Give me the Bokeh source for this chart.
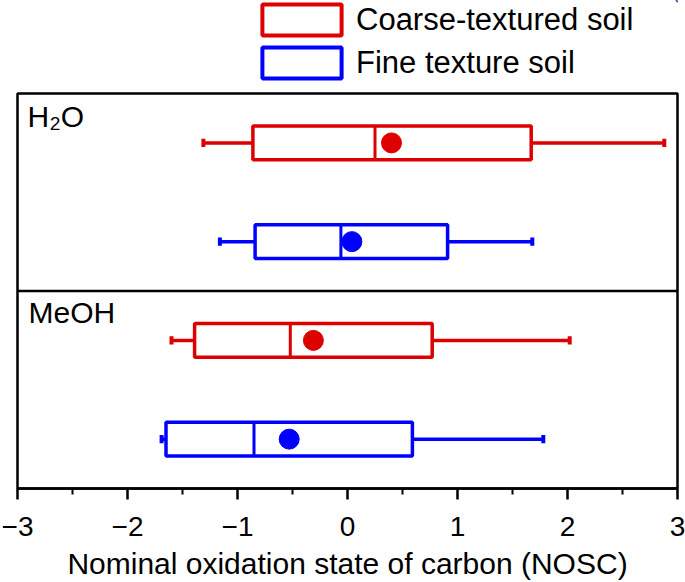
from bokeh.plotting import figure
from bokeh.layouts import column
from bokeh.models import ColumnDataSource, Legend, LegendItem, Label, Span, FixedTicker, Range1d
from bokeh.embed import file_html
from bokeh.resources import INLINE

# ---------------- data ----------------
panels = ["H\u2082O", "MeOH"]
soils = ["Coarse-textured soil", "Fine texture soil"]

coarse_whisker_low = [-1.31, -1.60]
coarse_q1 = [-0.86, -1.39]
coarse_median = [0.25, -0.52]
coarse_q3 = [1.67, 0.77]
coarse_whisker_high = [2.88, 2.02]
coarse_mean = [0.40, -0.31]

fine_whisker_low = [-1.16, -1.69]
fine_q1 = [-0.84, -1.65]
fine_median = [-0.06, -0.85]
fine_q3 = [0.91, 0.59]
fine_whisker_high = [1.68, 1.78]
fine_mean = [0.04, -0.53]

tick_values = [-3, -2, -1, 0, 1, 2, 3]
tick_labels = ["\u22123", "\u22122", "\u22121", "0", "1", "2", "3"]
minor_tick_values = [-2.5, -1.5, -0.5, 0.5, 1.5, 2.5]
x_label = "Nominal oxidation state of carbon (NOSC)"

# ---------------- styling ----------------
RED = "#dd0000"
BLUE = "#0000ff"
FONT = "Liberation Sans"
BOX_H = 0.68
CAP_H = 0.17
panel_base = [4, 0]          # H2O panel on top, MeOH below
coarse_y = [b + 3 for b in panel_base]
fine_y = [b + 1 for b in panel_base]

W = 685
TOP_H = 90

# ---------------- legend strip ----------------
leg_fig = figure(width=W, height=TOP_H, output_backend="svg", toolbar_location=None,
                 x_range=Range1d(0, 1), y_range=Range1d(0, 1),
                 x_axis_location=None, y_axis_location=None, min_border=0)
leg_fig.xgrid.visible = False
leg_fig.ygrid.visible = False
leg_fig.outline_line_color = None
leg_fig.border_fill_color = "white"
leg_fig.background_fill_color = "white"
# swatch renderers: their box lies far outside the visible range; only the legend shows them
leg_r1 = leg_fig.hbar(y=[50], left=[50], right=[51], height=0.5, fill_color="white",
                      line_color=RED, line_width=4)
leg_r2 = leg_fig.hbar(y=[50], left=[50], right=[51], height=0.5, fill_color="white",
                      line_color=BLUE, line_width=4)
legend = Legend(items=[LegendItem(label=soils[0], renderers=[leg_r1]),
                       LegendItem(label=soils[1], renderers=[leg_r2])],
                location=(235, 8), orientation="vertical",
                glyph_width=99, glyph_height=39, spacing=4, padding=0, margin=0,
                label_standoff=5, label_text_font=FONT, label_text_font_size="31px",
                label_text_color="black", border_line_color=None,
                background_fill_alpha=0)
leg_fig.add_layout(legend)

# ---------------- main chart ----------------
p = figure(width=W, height=582 - TOP_H, output_backend="svg", toolbar_location=None,
           x_range=Range1d(-3, 3), y_range=Range1d(0, 8), y_axis_location=None,
           min_border_left=17, min_border_right=8, min_border_top=3, min_border_bottom=94)
p.xgrid.visible = False
p.ygrid.visible = False
p.outline_line_color = "black"
p.outline_line_width = 2.5
p.background_fill_color = "white"
p.border_fill_color = "white"

ax = p.xaxis[0]
ax.ticker = FixedTicker(ticks=tick_values, minor_ticks=minor_tick_values)
ax.major_label_overrides = dict(zip(tick_values, tick_labels))
ax.axis_line_width = 2.5
ax.axis_line_color = "black"
ax.major_tick_line_width = 2.5
ax.minor_tick_line_width = 2
ax.major_tick_in = 0
ax.major_tick_out = 11
ax.minor_tick_in = 0
ax.minor_tick_out = 6
ax.major_label_standoff = 17
ax.major_label_text_font = FONT
ax.major_label_text_font_size = "28px"
ax.major_label_text_color = "black"
ax.axis_label = x_label
ax.axis_label_standoff = 8
ax.axis_label_text_font = FONT
ax.axis_label_text_font_size = "30px"
ax.axis_label_text_font_style = "normal"
ax.axis_label_text_color = "black"


def draw(color, y, wlo, q1, med, q3, whi, mean):
    src = ColumnDataSource(dict(
        y=y, wlo=wlo, q1=q1, med=med, q3=q3, whi=whi, mean=mean,
        ylo=[v - BOX_H / 2 for v in y], yhi=[v + BOX_H / 2 for v in y],
        clo=[v - CAP_H / 2 for v in y], chi=[v + CAP_H / 2 for v in y]))
    p.segment(x0="wlo", y0="y", x1="q1", y1="y", source=src, line_color=color, line_width=3.5)
    p.segment(x0="q3", y0="y", x1="whi", y1="y", source=src, line_color=color, line_width=3.5)
    p.segment(x0="wlo", y0="clo", x1="wlo", y1="chi", source=src, line_color=color, line_width=4)
    p.segment(x0="whi", y0="clo", x1="whi", y1="chi", source=src, line_color=color, line_width=4)
    r = p.hbar(y="y", left="q1", right="q3", height=BOX_H, source=src,
               fill_color="white", line_color=color, line_width=3.5)
    p.segment(x0="med", y0="ylo", x1="med", y1="yhi", source=src, line_color=color, line_width=3)
    p.scatter(x="mean", y="y", source=src, size=20, marker="circle",
              fill_color=color, line_color=color)
    return r


draw(RED, coarse_y, coarse_whisker_low, coarse_q1, coarse_median,
     coarse_q3, coarse_whisker_high, coarse_mean)
draw(BLUE, fine_y, fine_whisker_low, fine_q1, fine_median,
     fine_q3, fine_whisker_high, fine_mean)

# panel divider
p.add_layout(Span(location=4, dimension="width", line_color="black", line_width=2.5))

# panel labels
p.add_layout(Label(x=10, y=372, x_units="screen", y_units="screen", text=panels[0],
                   text_font=FONT, text_font_size="30px", text_baseline="alphabetic",
                   text_color="black"))
p.add_layout(Label(x=11, y=176, x_units="screen", y_units="screen", text=panels[1],
                   text_font=FONT, text_font_size="30px", text_baseline="alphabetic",
                   text_color="black"))

layout = column(leg_fig, p, spacing=0)
open("out.html", "w").write(file_html(layout, INLINE))
